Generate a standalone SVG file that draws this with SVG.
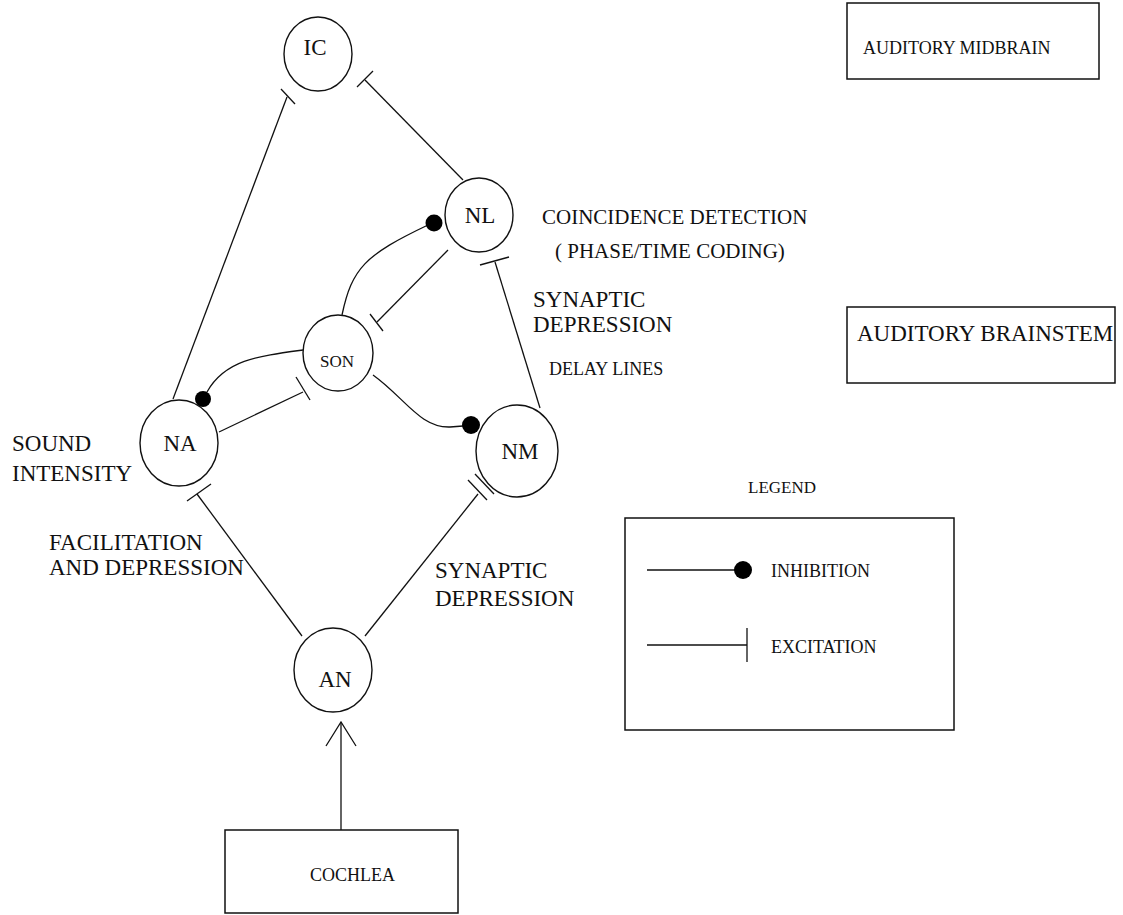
<svg xmlns="http://www.w3.org/2000/svg" width="1123" height="915" viewBox="0 0 1123 915">
<style>
.n{fill:none;stroke:#111;stroke-width:1.4}
.b{fill:none;stroke:#111;stroke-width:1.5}
.c{fill:none;stroke:#111;stroke-width:1.3}
.d{fill:#000}
text{font-family:"Liberation Serif","Times New Roman",serif;fill:#111}
.t22{font-size:23px}
.t17{font-size:17px}
.t18{font-size:18px}
.t21{font-size:21px}
.mid{text-anchor:middle}
</style>
<defs>
<marker id="open" viewBox="0 0 26 32" refX="25" refY="16" markerWidth="26" markerHeight="32" markerUnits="userSpaceOnUse" orient="auto">
<path d="M1 1 L25 16 L1 31" fill="none" stroke="#111" stroke-width="1.3"/>
</marker>
</defs>
<rect width="1123" height="915" fill="#fff"/>

<g id="connectors">
<!-- NA -> IC excitation -->
<line class="c" x1="173" y1="399" x2="287" y2="97"/>
<line class="c" x1="281" y1="89" x2="295" y2="104"/>
<!-- NL -> IC excitation -->
<line class="c" x1="463" y1="180" x2="365" y2="80"/>
<line class="c" x1="357" y1="87" x2="373" y2="71"/>
<!-- NL -> SON excitation -->
<line class="c" x1="448" y1="250" x2="377" y2="322"/>
<line class="c" x1="370" y1="314" x2="383" y2="331"/>
<!-- SON -> NL inhibition -->
<path class="c" d="M342 315 C352 268 365 255 428 225"/>
<circle class="d" cx="434" cy="223" r="8.5"/>
<!-- SON -> NA inhibition -->
<path class="c" d="M303 350 C258 356 225 360 207 392"/>
<circle class="d" cx="203" cy="399" r="8"/>
<!-- NA -> SON excitation -->
<line class="c" x1="219" y1="432" x2="303" y2="392"/>
<line class="c" x1="296" y1="377" x2="310" y2="400"/>
<!-- SON -> NM inhibition -->
<path class="c" d="M373 375 C405 398 420 428 450 427 L463 426"/>
<circle class="d" cx="471" cy="425" r="9"/>
<!-- NM -> NL excitation -->
<line class="c" x1="540" y1="408" x2="495" y2="262"/>
<line class="c" x1="480" y1="265" x2="509" y2="257"/>
<!-- AN -> NA excitation -->
<line class="c" x1="302" y1="636" x2="197" y2="494"/>
<line class="c" x1="187" y1="501" x2="211" y2="484"/>
<!-- AN -> NM excitation -->
<line class="c" x1="365" y1="636" x2="478" y2="494"/>
<line class="c" x1="468" y1="480" x2="487" y2="500"/>
<line class="c" x1="475" y1="474" x2="494" y2="494"/>
<!-- COCHLEA -> AN -->
<line class="c" x1="341" y1="830" x2="341" y2="722" marker-end="url(#open)"/>
</g>

<g id="IC"><ellipse class="n" cx="318" cy="54" rx="34" ry="37"/><text class="t22 mid" x="315" y="55">IC</text></g>
<g id="NL"><ellipse class="n" cx="479" cy="215" rx="34" ry="37"/><text class="t22 mid" x="480" y="223">NL</text></g>
<g id="SON"><ellipse class="n" cx="338" cy="353" rx="35" ry="38"/><text class="t17 mid" x="337" y="367">SON</text></g>
<g id="NA"><ellipse class="n" cx="179" cy="443" rx="39" ry="43"/><text class="t22 mid" x="180" y="451">NA</text></g>
<g id="NM"><ellipse class="n" cx="517" cy="451" rx="41" ry="46"/><text class="t22 mid" x="520" y="459">NM</text></g>
<g id="AN"><ellipse class="n" cx="333" cy="670" rx="39" ry="42"/><text class="t22 mid" x="335" y="687">AN</text></g>
<g id="COCHLEA"><rect class="b" x="225" y="830" width="233" height="83"/><text class="t18" x="310" y="881">COCHLEA</text></g>

<g id="midbrain"><rect class="b" x="847" y="3" width="252" height="76"/><text class="t18" x="863" y="54">AUDITORY MIDBRAIN</text></g>
<g id="brainstem"><rect class="b" x="847" y="307" width="268" height="76"/><text class="t22" x="857" y="341">AUDITORY BRAINSTEM</text></g>

<g id="labels">
<text class="t21" x="542" y="224">COINCIDENCE DETECTION</text>
<text class="t21" x="555" y="258">( PHASE/TIME CODING)</text>
<text class="t22" x="533" y="307">SYNAPTIC</text>
<text class="t22" x="533" y="332">DEPRESSION</text>
<text class="t18" x="549" y="375">DELAY LINES</text>
<text class="t22" x="12" y="451">SOUND</text>
<text class="t22" x="12" y="481">INTENSITY</text>
<text class="t22" x="49" y="550">FACILITATION</text>
<text class="t22" x="49" y="575">AND DEPRESSION</text>
<text class="t22" x="435" y="578">SYNAPTIC</text>
<text class="t22" x="435" y="606">DEPRESSION</text>
</g>

<g id="legend">
<text class="t17" x="748" y="493">LEGEND</text>
<rect class="b" x="625" y="518" width="329" height="212"/>
<line class="c" x1="647" y1="570" x2="736" y2="570"/>
<circle class="d" cx="743" cy="570" r="9"/>
<text class="t18" x="771" y="577">INHIBITION</text>
<line class="c" x1="647" y1="645" x2="747" y2="645"/>
<line class="c" x1="747" y1="628" x2="747" y2="662"/>
<text class="t18" x="771" y="653">EXCITATION</text>
</g>
</svg>
